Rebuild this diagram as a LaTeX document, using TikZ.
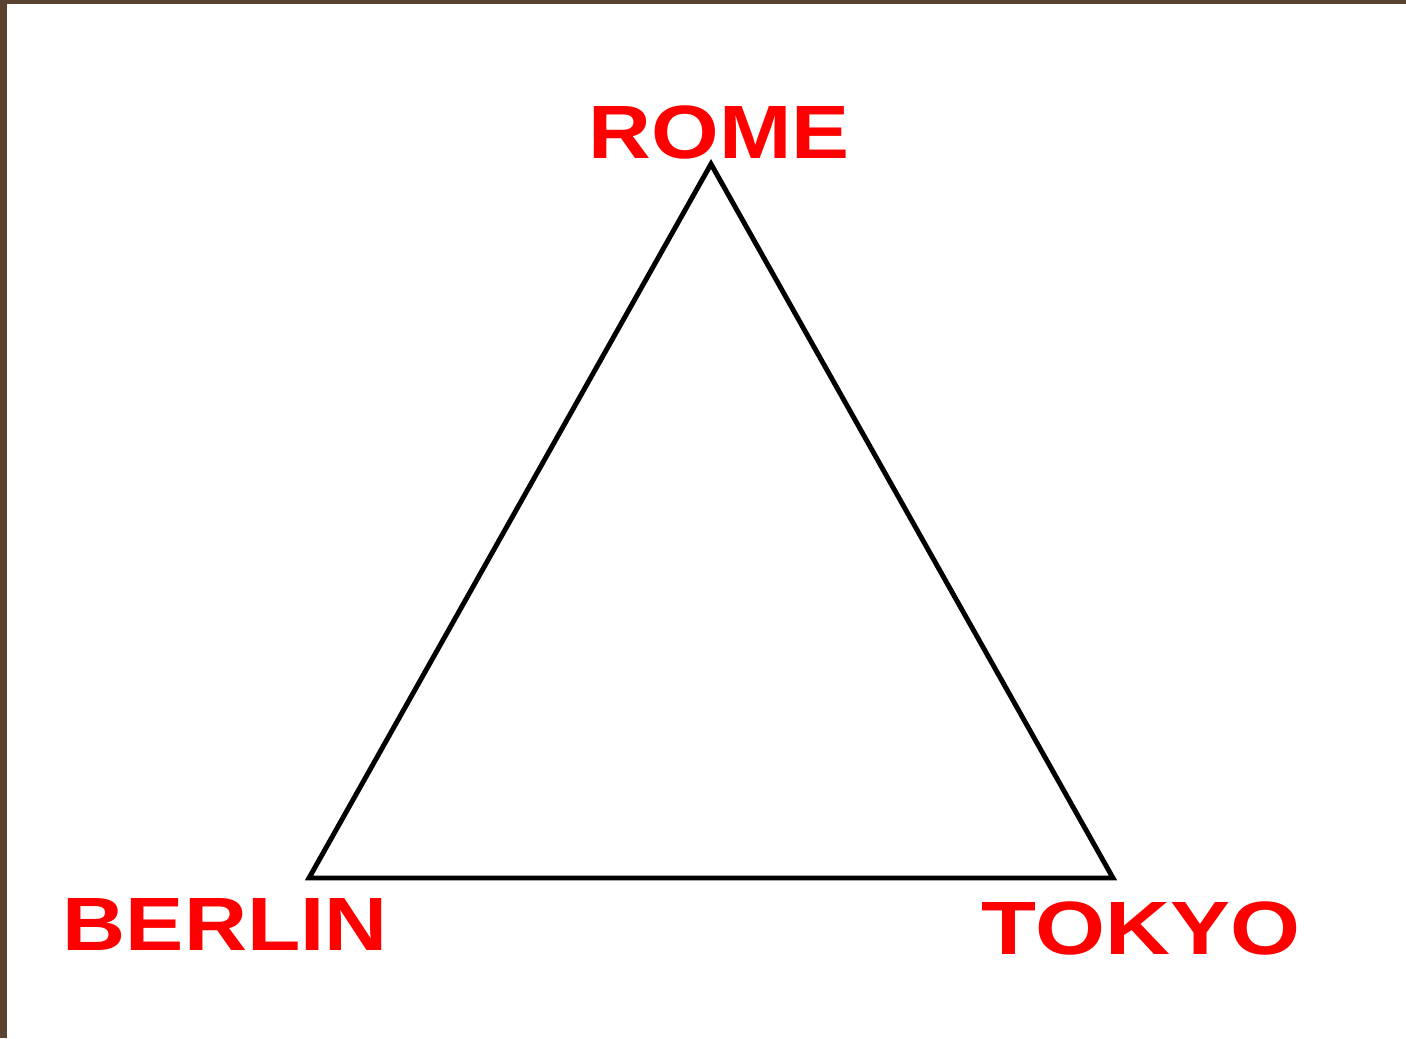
\documentclass[tikz,border=0pt]{standalone}
\usepackage{fontspec}
\setmainfont{Liberation Sans}
\usepackage{xcolor}
\definecolor{cityred}{HTML}{FF0000}
\definecolor{bark}{HTML}{5A4431}

\begin{document}
\begin{tikzpicture}[
  x=0.01cm, y=-0.01cm,
  city/.style={text=cityred, font=\fontsize{21.5}{25}\selectfont\bfseries, inner sep=0pt},
  edge/.style={draw=black, line width=1.4pt, miter limit=20}
]
\useasboundingbox (0,0) rectangle (1406,1038);
\fill[bark] (0,0) rectangle (1406,1038);
\fill[white] (7,4) rectangle (1406,1038);

% corners of the triangle
\coordinate (rome) at (711,164);
\coordinate (berlin) at (309,878);
\coordinate (tokyo) at (1113,878);

\draw[edge] (rome) -- (tokyo) -- (berlin) -- cycle;

\node[city, anchor=base] (romelbl) at (719,158) {\scalebox{1.15}[1]{ROME}};
\node[city, anchor=base west] (berlinlbl) at (62,950) {\scalebox{1.155}[1]{BERLIN}};
\node[city, anchor=base west] (tokyolbl) at (981,954) {\scalebox{1.19}[1]{TOKYO}};

\end{tikzpicture}
\end{document}
